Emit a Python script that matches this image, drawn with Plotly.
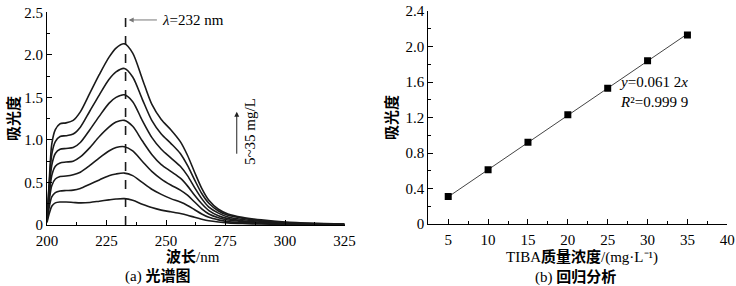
import plotly.graph_objects as go

# ---------------- data: (a) spectra ----------------
wavelength = [200, 201, 202, 203.5, 205.5, 208, 211, 214, 218, 222, 226, 229, 232.5, 236, 240,
              244, 248, 252, 256, 259, 262, 265, 268, 272, 276, 282, 290, 300, 312, 325]
conc_labels = ["5 mg/L", "10 mg/L", "15 mg/L", "20 mg/L", "25 mg/L", "30 mg/L", "35 mg/L"]
abs_5 = [0.03, 0.14, 0.22, 0.26, 0.27, 0.27, 0.265, 0.26, 0.265, 0.28, 0.295, 0.305, 0.31, 0.29, 0.245,
         0.205, 0.175, 0.155, 0.135, 0.115, 0.09, 0.068, 0.05, 0.035, 0.025, 0.017, 0.011, 0.007, 0.004, 0.002]
abs_10 = [0.04, 0.22, 0.33, 0.38, 0.40, 0.405, 0.41, 0.43, 0.48, 0.53, 0.58, 0.60, 0.61, 0.58, 0.50,
          0.42, 0.36, 0.31, 0.27, 0.23, 0.18, 0.13, 0.09, 0.06, 0.04, 0.028, 0.018, 0.011, 0.006, 0.003]
abs_15 = [0.05, 0.30, 0.46, 0.54, 0.57, 0.575, 0.59, 0.62, 0.70, 0.79, 0.87, 0.91, 0.92, 0.87, 0.75,
          0.63, 0.54, 0.47, 0.41, 0.35, 0.27, 0.19, 0.13, 0.085, 0.058, 0.04, 0.026, 0.016, 0.009, 0.004]
abs_20 = [0.05, 0.36, 0.58, 0.69, 0.73, 0.74, 0.75, 0.80, 0.91, 1.04, 1.15, 1.21, 1.23, 1.16, 0.99,
          0.83, 0.71, 0.63, 0.55, 0.46, 0.35, 0.25, 0.17, 0.11, 0.075, 0.05, 0.033, 0.02, 0.011, 0.005]
abs_25 = [0.06, 0.42, 0.70, 0.84, 0.89, 0.90, 0.91, 0.97, 1.12, 1.28, 1.43, 1.50, 1.53, 1.45, 1.23,
          1.03, 0.89, 0.79, 0.69, 0.58, 0.44, 0.31, 0.21, 0.14, 0.095, 0.065, 0.042, 0.025, 0.014, 0.007]
abs_30 = [0.06, 0.50, 0.83, 0.98, 1.04, 1.05, 1.07, 1.15, 1.34, 1.53, 1.71, 1.80, 1.84, 1.74, 1.48,
          1.23, 1.07, 0.96, 0.84, 0.70, 0.53, 0.37, 0.255, 0.165, 0.115, 0.08, 0.05, 0.03, 0.017, 0.008]
abs_35 = [0.06, 0.55, 0.95, 1.12, 1.19, 1.20, 1.23, 1.33, 1.55, 1.77, 1.97, 2.08, 2.13, 2.02, 1.72,
          1.42, 1.24, 1.12, 0.98, 0.82, 0.62, 0.43, 0.29, 0.185, 0.13, 0.09, 0.06, 0.035, 0.02, 0.01]
spectra = [abs_5, abs_10, abs_15, abs_20, abs_25, abs_30, abs_35]
peak_wavelength = 233
peak_label = "<i>λ</i>=232 nm"
range_label = "5~35 mg/L"

# ---------------- data: (b) regression ----------------
conc = [5, 10, 15, 20, 25, 30, 35]
absorbance = [0.31, 0.61, 0.92, 1.23, 1.53, 1.84, 2.13]
fit_x = [5, 35]
fit_y = [0.306, 2.142]
eq_text = "<i>y</i>=0.061 2<i>x</i><br><i>R</i>²=0.999 9"

# tick labels
a_xticks = [200, 225, 250, 275, 300, 325]
a_yticks = [0, 0.5, 1.0, 1.5, 2.0, 2.5]
a_yticktext = ["0", "0.5", "1.0", "1.5", "2.0", "2.5"]
b_xticks = [5, 10, 15, 20, 25, 30, 35, 40]
b_yticks = [0, 0.4, 0.8, 1.2, 1.6, 2.0, 2.4]
b_yticktext = ["0", "0.4", "0.8", "1.2", "1.6", "2.0", "2.4"]

FONT = "'Liberation Serif', 'Times New Roman', 'Noto Sans CJK SC', serif"
W, H = 736, 286

fig = go.Figure()
for name, ys in zip(conc_labels, spectra):
    fig.add_trace(go.Scatter(x=wavelength, y=ys, mode="lines", name=name,
                             line=dict(color="#1a1a1a", width=1.6, shape="spline", smoothing=0.8),
                             xaxis="x", yaxis="y", showlegend=False))
fig.add_trace(go.Scatter(x=[peak_wavelength, peak_wavelength], y=[0, 2.49], mode="lines",
                         line=dict(color="#1a1a1a", width=1.6, dash="dash"),
                         xaxis="x", yaxis="y", showlegend=False))

fig.add_trace(go.Scatter(x=fit_x, y=fit_y, mode="lines",
                         line=dict(color="#444444", width=1),
                         xaxis="x2", yaxis="y2", showlegend=False))
fig.add_trace(go.Scatter(x=conc, y=absorbance, mode="markers",
                         marker=dict(symbol="square", size=7, color="black"),
                         xaxis="x2", yaxis="y2", showlegend=False))

def px_x(p):
    return p / W

def px_y(p):
    return 1 - p / H

axis_common = dict(showline=True, linecolor="black", linewidth=1, mirror=False,
                   ticks="inside", ticklen=5, tickwidth=1, tickcolor="black",
                   showgrid=False, zeroline=False, automargin=False,
                   tickfont=dict(family=FONT, size=15, color="black"))

fig.update_layout(
    template="none",
    width=W, height=H, margin=dict(l=0, r=0, t=0, b=0, pad=0),
    paper_bgcolor="white", plot_bgcolor="white",
    font=dict(family=FONT, size=15, color="black"),
    xaxis=dict(domain=[px_x(47), px_x(344.6)], range=[200, 325], tickvals=a_xticks, ticklabelstandoff=2,
               minor=dict(ticks="inside", ticklen=3, dtick=12.5, tick0=200, tickcolor="black"),
               anchor="y", **axis_common),
    yaxis=dict(domain=[px_y(225), px_y(12.3)], range=[0, 2.5], tickvals=a_yticks, ticktext=a_yticktext,
               minor=dict(ticks="inside", ticklen=3, dtick=0.25, tick0=0, tickcolor="black"),
               anchor="x", **axis_common),
    xaxis2=dict(domain=[px_x(428.3), px_x(727.3)], range=[2.5, 40], tickvals=b_xticks, ticklabelstandoff=2,
                minor=dict(ticks="inside", ticklen=3, dtick=2.5, tick0=0, tickcolor="black"),
                anchor="y2", **axis_common),
    yaxis2=dict(domain=[px_y(224), px_y(11)], range=[0, 2.4], tickvals=b_yticks, ticktext=b_yticktext,
                minor=dict(ticks="inside", ticklen=3, dtick=0.2, tick0=0, tickcolor="black"),
                anchor="x2", **axis_common),
)

def label(text, x, y, angle=0, xanchor="center"):
    return dict(text=text, x=px_x(x), y=px_y(y), xref="paper", yref="paper",
                xanchor=xanchor, yanchor="middle", textangle=angle,
                showarrow=False, font=dict(size=15))

ann = []
# axis titles and captions
ann.append(label("<b>吸光度</b>", 13, 118, -90))
ann.append(label("<b>波长</b>/nm", 193, 256))
ann.append(label("(a) <b>光谱图</b>", 157, 276))
ann.append(label("<b>吸光度</b>", 391, 118, -90))
ann.append(label("TIBA<b>质量浓度</b>/(mg·L⁻¹)", 582, 257))
ann.append(label("(b) <b>回归分析</b>", 575, 277))
# lambda arrow
ann.append(dict(text="", x=234.3, y=2.41, xref="x", yref="y", ax=246.8, ay=2.41, axref="x", ayref="y",
                showarrow=True, arrowhead=2, arrowsize=1, arrowwidth=1, arrowcolor="#777777"))
ann.append(dict(text=peak_label, x=247.5, y=2.41, xref="x", yref="y", xanchor="left", yanchor="middle",
                showarrow=False, font=dict(size=15)))
# concentration arrow
ann.append(dict(text="", x=279.7, y=1.33, xref="x", yref="y", ax=279.7, ay=0.82, axref="x", ayref="y",
                showarrow=True, arrowhead=2, arrowsize=1, arrowwidth=1, arrowcolor="#222222"))
ann.append(label(range_label, 250, 132, -90))
# regression equation
ann.append(dict(text=eq_text, x=px_x(617), y=px_y(92), xref="paper", yref="paper",
                xanchor="left", yanchor="middle", align="left", showarrow=False, font=dict(size=15)))
fig.update_layout(annotations=ann)

fig.write_html("out.html")
